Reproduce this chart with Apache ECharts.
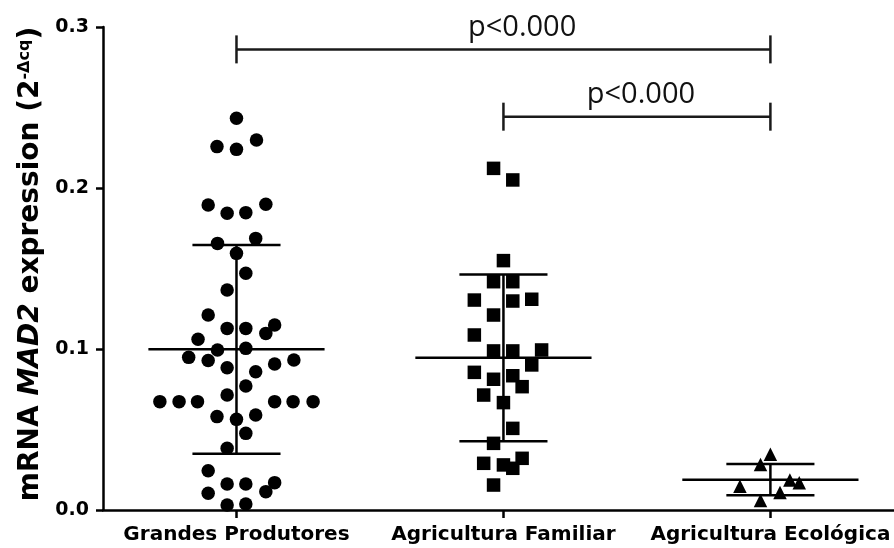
<!DOCTYPE html>
<html>
<head>
<meta charset="utf-8">
<script src="https://cdn.jsdelivr.net/npm/echarts@6/dist/echarts.min.js"></script>
<style>
  html, body { margin: 0; padding: 0; background: #fff; }
  #chart { width: 894px; height: 548px; }
</style>
</head>
<body>
<div id="chart"></div>
<script>
// Groups on the x axis
const groups = ['Grandes Produtores', 'Agricultura Familiar', 'Agricultura Ecológica'];
const groupPositions = [0, 1, 2];

// Axis ranges
const xMin = -0.5, xMax = 2.463;
const yMin = 0, yMax = 0.3, yStep = 0.1;

// Individual samples: expression value and horizontal spread inside its column (category widths)
const grandesValues = [
  0.2433, 0.2257, 0.2240, 0.2298, 0.1894, 0.1843, 0.1847, 0.1899, 0.1656, 0.1687,
  0.1594, 0.1470, 0.1366, 0.1211, 0.1128, 0.1128, 0.1149, 0.1097, 0.1060, 0.0994,
  0.1004, 0.0948, 0.0928, 0.0907, 0.0932, 0.0884, 0.0859, 0.0770, 0.0714, 0.0673,
  0.0673, 0.0673, 0.0673, 0.0673, 0.0673, 0.0580, 0.0563, 0.0590, 0.0476, 0.0383,
  0.0244, 0.0161, 0.0161, 0.0170, 0.0114, 0.0104, 0.0031, 0.0037
];
const grandesSpread = [
  0, -0.073, 0, 0.075, -0.106, -0.035, 0.035, 0.110, -0.071, 0.072,
  0, 0.035, -0.035, -0.106, -0.035, 0.035, 0.143, 0.110, -0.144, -0.071,
  0.035, -0.179, -0.106, 0.143, 0.215, -0.035, 0.072, 0.035, -0.035, -0.287,
  -0.215, -0.146, 0.143, 0.212, 0.287, -0.073, 0, 0.072, 0.035, -0.035,
  -0.106, -0.035, 0.035, 0.143, 0.110, -0.106, -0.035, 0.035
];

const familiarValues = [
  0.2122, 0.2050, 0.1549, 0.1418, 0.1418, 0.1304, 0.1298, 0.1309, 0.1211, 0.1087,
  0.0988, 0.0988, 0.0994, 0.0901, 0.0855, 0.0812, 0.0834, 0.0766, 0.0714, 0.0667,
  0.0507, 0.0414, 0.0290, 0.0280, 0.0321, 0.0259, 0.0155
];
const familiarSpread = [
  -0.037, 0.035, 0, -0.037, 0.035, -0.109, 0.035, 0.106, -0.037, -0.109,
  -0.037, 0.035, 0.143, 0.106, -0.109, -0.037, 0.035, 0.070, -0.074, 0,
  0.035, -0.037, -0.074, 0, 0.070, 0.035, -0.037
];

const ecologicaValues = [0.0347, 0.0283, 0.0147, 0.0186, 0.0170, 0.0109, 0.0059];
const ecologicaSpread = [0, -0.037, -0.114, 0.073, 0.108, 0.036, -0.037];

// Group summaries: mean and standard deviation
const groupMeans = [0.0998, 0.0945, 0.0188];
const groupSDs = [0.0648, 0.0518, 0.0097];

// Pairwise comparisons drawn as brackets above the columns
const compFrom = [0, 1];
const compTo = [2, 2];
const compLevel = [0.2861, 0.2443];
const compLabel = ['p<0.000', 'p<0.000'];
const compLabelAt = [1.07, 1.515];

const BOLD = '"DejaVu Sans", sans-serif';

function samples(values, spread, g) {
  return values.map((v, i) => [g + spread[i], v]);
}

const chart = echarts.init(document.getElementById('chart'));

chart.setOption({
  backgroundColor: '#fff',
  animation: false,
  grid: { left: 103, top: 27, bottom: 38, right: 0 },
  xAxis: {
    type: 'value',
    min: xMin, max: xMax,
    axisLine: { show: true, onZero: false, lineStyle: { color: '#000', width: 2.5 } },
    axisTick: { show: true, customValues: groupPositions, length: 8, lineStyle: { color: '#000', width: 2.5 } },
    axisLabel: {
      customValues: groupPositions,
      formatter: v => groups[Math.round(v)],
      margin: 15, color: '#000',
      fontFamily: BOLD, fontWeight: 'bold', fontSize: 20
    },
    splitLine: { show: false }
  },
  yAxis: {
    type: 'value',
    min: yMin, max: yMax, interval: yStep,
    axisLine: { show: true, onZero: false, lineStyle: { color: '#000', width: 2.5 } },
    axisTick: { show: true, length: 7, lineStyle: { color: '#000', width: 2.5 } },
    axisLabel: {
      margin: 14, color: '#000',
      fontFamily: BOLD, fontWeight: 'bold', fontSize: 19,
      formatter: v => v.toFixed(1)
    },
    splitLine: { show: false },
    name: '{b|mRNA }{i|MAD2}{b| expression (2}{s|-Δcq}{b|)}',
    nameLocation: 'middle',
    nameGap: 56,
    nameRotate: 90,
    nameTextStyle: {
      padding: [0, 0, 0, 9],
      rich: {
        b: { fontFamily: BOLD, fontWeight: 'bold', fontSize: 28, color: '#000' },
        i: { fontFamily: BOLD, fontWeight: 'bold', fontStyle: 'italic', fontSize: 28, color: '#000' },
        s: { fontFamily: BOLD, fontWeight: 'bold', fontSize: 16, color: '#000', verticalAlign: 'top' }
      }
    }
  },
  series: [
    {
      type: 'scatter', symbol: 'circle', symbolSize: 13.5,
      itemStyle: { color: '#000', opacity: 1 },
      data: samples(grandesValues, grandesSpread, 0)
    },
    {
      type: 'scatter', symbol: 'rect', symbolSize: 13.5,
      itemStyle: { color: '#000', opacity: 1 },
      data: samples(familiarValues, familiarSpread, 1)
    },
    {
      type: 'scatter', symbol: 'triangle', symbolSize: 13.5,
      itemStyle: { color: '#000', opacity: 1 },
      data: samples(ecologicaValues, ecologicaSpread, 2)
    },
    {
      // mean line with SD whiskers for each group
      type: 'custom',
      data: groupMeans.map((m, g) => [g, m, groupSDs[g]]),
      renderItem: (params, api) => {
        const g = api.value(0), m = api.value(1), s = api.value(2);
        const st = { stroke: '#000', lineWidth: 2.5 };
        const seg = (a, b) => ({ type: 'line', shape: { x1: a[0], y1: a[1], x2: b[0], y2: b[1] }, style: st });
        return {
          type: 'group',
          children: [
            seg(api.coord([g - 0.33, m]), api.coord([g + 0.33, m])),
            seg(api.coord([g, m + s]), api.coord([g, m - s])),
            seg(api.coord([g - 0.165, m + s]), api.coord([g + 0.165, m + s])),
            seg(api.coord([g - 0.165, m - s]), api.coord([g + 0.165, m - s]))
          ]
        };
      },
      z: 3
    },
    {
      // significance brackets
      type: 'custom',
      data: compFrom.map((f, i) => [f, compTo[i], compLevel[i], compLabelAt[i], i]),
      renderItem: (params, api) => {
        const a = api.coord([api.value(0), api.value(2)]);
        const b = api.coord([api.value(1), api.value(2)]);
        const t = api.coord([api.value(3), api.value(2)]);
        const label = compLabel[api.value(4)];
        const st = { stroke: '#1a1a1a', lineWidth: 2.5 };
        const seg = (x1, y1, x2, y2) => ({ type: 'line', shape: { x1, y1, x2, y2 }, style: st });
        return {
          type: 'group',
          children: [
            seg(a[0], a[1], b[0], b[1]),
            seg(a[0], a[1] - 14, a[0], a[1] + 14),
            seg(b[0], b[1] - 14, b[0], b[1] + 14),
            {
              type: 'text',
              style: {
                x: t[0], y: t[1] - 22, text: label,
                align: 'center', verticalAlign: 'middle',
                fontFamily: '"Open Sans", sans-serif', fontSize: 29, fill: '#111'
              }
            }
          ]
        };
      },
      z: 3
    }
  ]
});
</script>
</body>
</html>
